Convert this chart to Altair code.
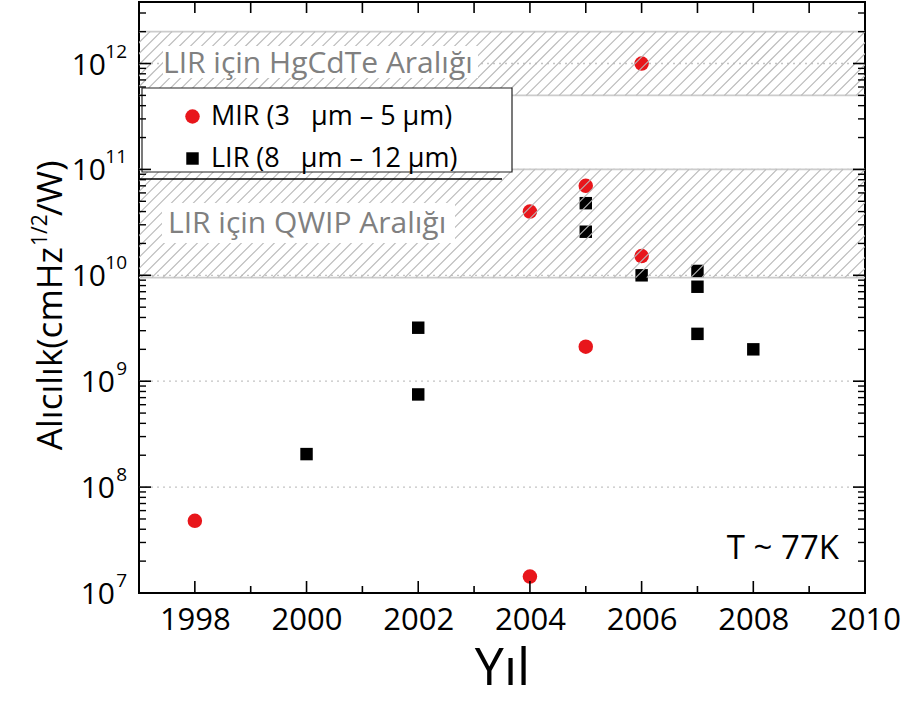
import math
import altair as alt
import pandas as pd

# Detectivity (cmHz^1/2/W) reported per year
mir_years = [1998, 2004, 2004, 2005, 2005, 2006, 2006]
mir_values = [4.8e7, 1.43e7, 4.0e10, 7.0e10, 2.12e9, 1.0e12, 1.52e10]
lir_years = [2000, 2002, 2002, 2005, 2005, 2006, 2007, 2007, 2007, 2008]
lir_values = [2.05e8, 3.2e9, 7.5e8, 4.8e10, 2.58e10, 1.0e10, 1.1e10, 7.8e9, 2.8e9, 2.0e9]

series_names = ["MIR (3\u00a0\u00a0\u00a0µm – 5 µm)", "LIR (8\u00a0\u00a0\u00a0µm – 12 µm)"]
series_colors = ["#e8161b", "#000000"]
series_shapes = ["circle", "square"]
series_sizes = [210, 155]

# Detectivity ranges of LIR detector technologies
band_names = ["LIR için HgCdTe Aralığı", "LIR için QWIP Aralığı"]
band_low = [5e11, 9.5e9]
band_high = [2e12, 1e11]

x_tick_labels = [1998, 2000, 2002, 2004, 2006, 2008, 2010]
y_exponents = [7, 8, 9, 10, 11, 12]
note_text = "T ~ 77K"

# ---- layout -------------------------------------------------------------
W, H = 726, 591
X0, X1 = 1997, 2010
Y0, Y1 = 1e7, 10 ** 12.581
FONT = "Open Sans"

XS = alt.Scale(domain=[X0, X1], nice=False, zero=False)
YS = alt.Scale(type="log", domain=[Y0, Y1], nice=False)
X_AXIS = alt.Axis(
    values=x_tick_labels, format="d", ticks=False, domain=False, grid=False,
    labelFont=FONT, labelFontSize=31, labelColor="black", labelPadding=12,
    labelFlush=False, labelOverlap=False,
    title="Yıl", titleFont=FONT, titleFontSize=52, titleFontWeight="normal",
    titleColor="black", titlePadding=8,
)


def xq(field):
    return alt.X(field, type="quantitative", scale=XS, axis=X_AXIS)


def yq(field):
    return alt.Y(field, type="quantitative", scale=YS, axis=None)


# ---- data tables ---------------------------------------------------------
points_df = pd.DataFrame({
    "year": mir_years + lir_years,
    "value": mir_values + lir_values,
    "series": [series_names[0]] * len(mir_years) + [series_names[1]] * len(lir_years),
})

bands_df = pd.DataFrame({"name": band_names, "low": band_low, "high": band_high})
bands_df["mid"] = [math.sqrt(a * b) for a, b in zip(band_low, band_high)]
band_edges_df = pd.DataFrame({"value": band_low + band_high})

# 45 degree hatch lines across each band
ppd = H / (math.log10(Y1) - math.log10(Y0))
ppy = W / (X1 - X0)
HATCH_GAP = 11
hatch_rows = []
for lo, hi in zip(band_low, band_high):
    run = (math.log10(hi) - math.log10(lo)) * ppd / ppy
    step = HATCH_GAP / ppy
    x = X0 - run
    while x < X1:
        hatch_rows.append({"x": x, "x2": x + run, "y": lo, "y2": hi})
        x += step
hatch_df = pd.DataFrame(hatch_rows)

# tick positions
x_major = list(range(1998, 2010, 2))
x_minor = list(range(1999, 2010, 2))
x_top = list(range(1998, 2010))
y_major = [10.0 ** e for e in range(8, 13)]
y_minor = [m * 10.0 ** e for e in range(7, 13) for m in range(2, 10) if m * 10.0 ** e < Y1]

ylab_df = pd.DataFrame({"value": [10.0 ** e for e in y_exponents],
                        "exp": [str(e) for e in y_exponents]})

# ---- layers --------------------------------------------------------------
grid = alt.Chart(pd.DataFrame({"value": y_major})).mark_rule(
    color="#c4c4c4", strokeDash=[2, 4], strokeWidth=1.3
).encode(y=yq("value"), x=alt.value(0), x2=alt.value(W))

band_edges = alt.Chart(band_edges_df).mark_rule(color="#cccccc", strokeWidth=1.6).encode(
    y=yq("value"), x=alt.value(0), x2=alt.value(W)
)

LEG = alt.Legend(
    title=None, orient="none", legendX=40, legendY=101, padding=0,
    labelFont=FONT, labelFontSize=27, labelColor="black", labelLimit=400,
    labelOffset=5, rowPadding=14, symbolSize=185, symbolStrokeWidth=0,
    symbolOffset=0,
)

points = alt.Chart(points_df).mark_point(filled=True, opacity=1, strokeWidth=0).encode(
    x=xq("year"),
    y=yq("value"),
    color=alt.Color("series:N", scale=alt.Scale(domain=series_names, range=series_colors), legend=LEG),
    shape=alt.Shape("series:N", scale=alt.Scale(domain=series_names, range=series_shapes), legend=LEG),
    size=alt.Size("series:N", scale=alt.Scale(domain=series_names, range=series_sizes), legend=None),
)

hatch = alt.Chart(hatch_df).mark_rule(clip=True, color="#b8b8b8", strokeWidth=1.1).encode(
    x=xq("x"), x2="x2", y=yq("y"), y2="y2"
)

# white boxes behind the band captions, then the captions
label_boxes = [(24, 339, 44, 76), (23, 316, 201, 241)]
label_x = [24, 29]
caption_layers = []
for i, name in enumerate(band_names):
    bx0, bx1, by0, by1 = label_boxes[i]
    caption_layers.append(
        alt.Chart(bands_df.iloc[[i]]).mark_rect(fill="white").encode(
            x=alt.value(bx0), x2=alt.value(bx1), y=alt.value(by0), y2=alt.value(by1)
        )
    )
    caption_layers.append(
        alt.Chart(bands_df.iloc[[i]]).mark_text(
            align="left", baseline="middle", font=FONT, fontSize=30, color="#808080"
        ).encode(x=alt.value(label_x[i]), y=yq("mid"), text="name:N")
    )

legend_box = alt.Chart(pd.DataFrame({"k": [0]})).mark_rect(
    fill="white", stroke="#222222", strokeWidth=1.2
).encode(x=alt.value(3), x2=alt.value(373), y=alt.value(86), y2=alt.value(170))
legend_line = alt.Chart(pd.DataFrame({"k": [0]})).mark_rule(color="black", strokeWidth=1.5).encode(
    x=alt.value(0), x2=alt.value(363), y=alt.value(177)
)

# inward ticks on all four sides
tick_color = "black"
tx_major = alt.Chart(pd.DataFrame({"t": x_major})).mark_rule(color=tick_color, strokeWidth=1.6).encode(
    x=xq("t"), y=alt.value(H), y2=alt.value(H - 12))
tx_minor = alt.Chart(pd.DataFrame({"t": x_minor})).mark_rule(color=tick_color, strokeWidth=1.6).encode(
    x=xq("t"), y=alt.value(H), y2=alt.value(H - 7))
tx_top = alt.Chart(pd.DataFrame({"t": x_top})).mark_rule(color=tick_color, strokeWidth=1.6).encode(
    x=xq("t"), y=alt.value(0), y2=alt.value(11))
ty_major_l = alt.Chart(pd.DataFrame({"v": y_major})).mark_rule(color=tick_color, strokeWidth=1.6).encode(
    y=yq("v"), x=alt.value(0), x2=alt.value(12))
ty_minor_l = alt.Chart(pd.DataFrame({"v": y_minor})).mark_rule(color=tick_color, strokeWidth=1.4).encode(
    y=yq("v"), x=alt.value(0), x2=alt.value(7))
ty_major_r = alt.Chart(pd.DataFrame({"v": y_major})).mark_rule(color=tick_color, strokeWidth=1.6).encode(
    y=yq("v"), x=alt.value(W), x2=alt.value(W - 12))
ty_minor_r = alt.Chart(pd.DataFrame({"v": y_minor})).mark_rule(color=tick_color, strokeWidth=1.4).encode(
    y=yq("v"), x=alt.value(W), x2=alt.value(W - 7))

# y tick labels: "10" with a raised exponent
base_two = alt.Chart(ylab_df).transform_filter("length(datum.exp) > 1").mark_text(
    align="right", baseline="middle", font=FONT, fontSize=30, dy=2, color="black"
).encode(y=yq("value"), x=alt.value(-33), text=alt.value("10"))
base_one = alt.Chart(ylab_df).transform_filter("length(datum.exp) <= 1").mark_text(
    align="right", baseline="middle", font=FONT, fontSize=30, dy=2, color="black"
).encode(y=yq("value"), x=alt.value(-24), text=alt.value("10"))
exps = alt.Chart(ylab_df).mark_text(
    align="right", baseline="middle", font=FONT, fontSize=19, dy=-12, color="black"
).encode(y=yq("value"), x=alt.value(-12), text="exp:N")

# rotated y title with superscript 1/2
one = pd.DataFrame({"k": [0]})
TITLE_Y = 245
ytitle_a = alt.Chart(one).mark_text(
    angle=270, align="right", baseline="alphabetic", font=FONT, fontSize=35, color="black"
).encode(x=alt.value(-77), y=alt.value(TITLE_Y), text=alt.value("Alıcılık(cmHz"))
ytitle_b = alt.Chart(one).mark_text(
    angle=270, align="left", baseline="alphabetic", font=FONT, fontSize=21, color="black"
).encode(x=alt.value(-92), y=alt.value(TITLE_Y - 1), text=alt.value("1/2"))
ytitle_c = alt.Chart(one).mark_text(
    angle=270, align="left", baseline="alphabetic", font=FONT, fontSize=35, color="black"
).encode(x=alt.value(-77), y=alt.value(TITLE_Y - 31), text=alt.value("/W)"))

note = alt.Chart(one).mark_text(
    align="right", baseline="alphabetic", font=FONT, fontSize=33, color="black"
).encode(x=alt.value(700), y=alt.value(557), text=alt.value(note_text))

chart = alt.layer(
    grid, band_edges, points, hatch, *caption_layers, legend_box, legend_line,
    tx_major, tx_minor, tx_top, ty_major_l, ty_minor_l, ty_major_r, ty_minor_r,
    base_two, base_one, exps, ytitle_a, ytitle_b, ytitle_c, note,
).properties(
    width=W, height=H,
    autosize=alt.AutoSizeParams(type="none"),
    padding={"left": 139, "top": 2, "right": 56, "bottom": 113},
    background="white",
).configure_view(stroke="black", strokeWidth=2)

chart.save("out.html", embed_options={"renderer": "svg", "actions": False})
